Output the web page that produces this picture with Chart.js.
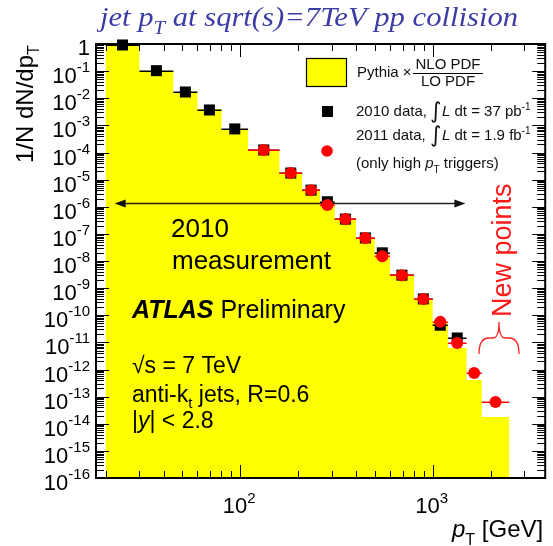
<!DOCTYPE html>
<html>
<head>
<meta charset="utf-8">
<script src="https://cdn.jsdelivr.net/npm/chart.js@4.4.1/dist/chart.umd.min.js"></script>
<style>
  html, body { margin: 0; padding: 0; background: #fff; }
  canvas { display: block; }
</style>
</head>
<body>
<canvas id="c" width="553" height="546"></canvas>
<script>
// pT bin edges [GeV]
const binEdges = [20, 30, 45, 60, 80, 110, 160, 210, 260, 310, 400, 500, 600, 800, 1000, 1200, 1500, 1800, 2500];
// Pythia x NLO PDF / LO PDF, one value per bin
const pythiaNLO = [0.84, 0.104, 0.017, 4.0e-3, 7.4e-4, 1.24e-4, 1.8e-5, 3.9e-6, 1.53e-6, 3.5e-7, 7.1e-8,
                   1.67e-8, 3.0e-9, 4.0e-10, 5.1e-11, 6.2e-12, 4.1e-13, 1.78e-14];
// 2010 data (37 pb^-1), bins 1..16
const data2010 = [0.92, 0.104, 0.017, 3.7e-3, 7.4e-4, 1.24e-4, 1.75e-5, 4.1e-6, 1.53e-6, 3.5e-7, 7.1e-8,
                  2.0e-8, 3.0e-9, 4.0e-10, 4.3e-11, 1.45e-11];
// 2011 data (1.9 fb^-1, high-pT triggers only), bins 6..18
const firstBin2011 = 5;
const data2011 = [1.24e-4, 1.75e-5, 4.1e-6, 1.15e-6, 3.5e-7, 7.1e-8, 1.5e-8, 3.0e-9, 4.0e-10, 5.7e-11,
                  9.5e-12, 7.4e-13, 6.3e-14];

// axis ranges and ticks
const xRange = [17.84, 3843];
const yRange = [1e-16, 1];
const yDecades = [0, -1, -2, -3, -4, -5, -6, -7, -8, -9, -10, -11, -12, -13, -14, -15, -16];
const xMajorExp = [2, 3];
const xMinorTicks = [20, 30, 40, 50, 60, 70, 80, 90, 200, 300, 400, 500, 600, 700, 800, 900, 2000, 3000];

// "2010 measurement" range arrow
const arrowRange = [22.3, 1480];
const arrowLevel = 1.4e-6;

const SANS = '"Liberation Sans", Arial, sans-serif';
const SERIF = '"Liberation Serif", "Times New Roman", serif';

const histPoints = binEdges.slice(0, -1).map((e, i) => ({ x: e, y: pythiaNLO[i] }));
histPoints.push({ x: binEdges[binEdges.length - 1], y: pythiaNLO[pythiaNLO.length - 1] });

const binCenter = i => Math.sqrt(binEdges[i] * binEdges[i + 1]);
const pts2010 = data2010.map((v, i) => ({ x: binCenter(i), y: v, bin: i }));
const pts2011 = data2011.map((v, i) => ({ x: binCenter(i + firstBin2011), y: v, bin: i + firstBin2011 }));

// draw a run of text pieces: [text, font, dy]
function rich(ctx, x, y, segs) {
  let cx = x;
  for (const s of segs) {
    ctx.font = s[1];
    ctx.fillText(s[0], cx, y + (s[2] || 0));
    cx += ctx.measureText(s[0]).width;
  }
  return cx;
}
function richWidth(ctx, segs) {
  let w = 0;
  for (const s of segs) { ctx.font = s[1]; w += ctx.measureText(s[0]).width; }
  return w;
}

// horizontal bin-width bars behind the markers
const binBars = {
  id: 'binBars',
  beforeDatasetDraw(chart, args) {
    const ds = chart.data.datasets[args.index];
    if (!ds.barColor) return;
    const { ctx, scales: { x, y } } = chart;
    ctx.save();
    ctx.strokeStyle = ds.barColor;
    ctx.lineWidth = 1.5;
    for (const p of ds.data) {
      const py = Math.round(y.getPixelForValue(p.y)) + 0.25;
      ctx.beginPath();
      ctx.moveTo(x.getPixelForValue(binEdges[p.bin]), py);
      ctx.lineTo(x.getPixelForValue(binEdges[p.bin + 1]), py);
      ctx.stroke();
    }
    ctx.restore();
  }
};

// ROOT-style frame, ticks on all sides, labels, in-plot annotations
const frameAxes = {
  id: 'frameAxes',
  afterDatasetDraw(chart, args) {
    if (args.index !== 0) return;
    const { ctx, chartArea: a, scales: { x, y } } = chart;
    ctx.save();
    ctx.strokeStyle = '#000';
    ctx.lineWidth = 1;
    ctx.beginPath();
    // y ticks
    for (const d of yDecades) {
      for (let m = 1; m <= 9; m++) {
        const v = m * Math.pow(10, d);
        if (v > yRange[1] * 1.0001 || v < yRange[0] * 0.9999) continue;
        const py = Math.round(y.getPixelForValue(v)) + 0.5;
        const len = m === 1 ? 13 : 8;
        ctx.moveTo(a.left, py); ctx.lineTo(a.left + len, py);
        ctx.moveTo(a.right, py); ctx.lineTo(a.right - len, py);
      }
    }
    // x ticks
    const xt = xMinorTicks.map(v => [v, 7]).concat(xMajorExp.map(e => [Math.pow(10, e), 13]));
    for (const [v, len] of xt) {
      const px = Math.round(x.getPixelForValue(v)) + 0.5;
      ctx.moveTo(px, a.bottom); ctx.lineTo(px, a.bottom - len);
      ctx.moveTo(px, a.top); ctx.lineTo(px, a.top + len);
    }
    ctx.stroke();
    ctx.lineWidth = 2;
    ctx.strokeRect(a.left, a.top, a.right - a.left, a.bottom - a.top);

    // tick labels
    ctx.fillStyle = '#000';
    ctx.textBaseline = 'alphabetic';
    const base = '22px ' + SANS, sup = '15px ' + SANS;
    for (const d of yDecades) {
      const py = y.getPixelForValue(Math.pow(10, d));
      if (d === 0) {
        ctx.font = base; ctx.textAlign = 'right';
        ctx.fillText('1', 90, py + 11);
        ctx.textAlign = 'left';
        continue;
      }
      ctx.textAlign = 'left';
      const segs = [['10', base, 12], [String(d), sup, 1]];
      const w = richWidth(ctx, segs);
      rich(ctx, 90 - w, py, segs);
    }
    for (const e of xMajorExp) {
      const px = x.getPixelForValue(Math.pow(10, e));
      const segs = [['10', base, 0], [String(e), sup, -10]];
      const w = richWidth(ctx, segs);
      rich(ctx, px - w / 2 - 1, 513, segs);
    }

    // axis titles
    rich(ctx, 452, 537, [['p', 'italic 24px ' + SANS], ['T', '16px ' + SANS, 8], [' [GeV]', '24px ' + SANS, 0]]);
    ctx.save();
    ctx.translate(33, 163);
    ctx.rotate(-Math.PI / 2);
    rich(ctx, 0, 0, [['1/N dN/dp', '24px ' + SANS], ['T', '16px ' + SANS, 6]]);
    ctx.restore();

    // range arrow
    const ax0 = x.getPixelForValue(arrowRange[0]);
    const ax1 = x.getPixelForValue(arrowRange[1]);
    const ay = Math.round(y.getPixelForValue(arrowLevel)) + 0.5;
    ctx.strokeStyle = '#222';
    ctx.fillStyle = '#111';
    ctx.lineWidth = 1.3;
    ctx.beginPath();
    ctx.moveTo(ax0 + 8, ay); ctx.lineTo(ax1 - 8, ay);
    ctx.stroke();
    ctx.beginPath();
    ctx.moveTo(ax0, ay); ctx.lineTo(ax0 + 11, ay - 4); ctx.lineTo(ax0 + 11, ay + 4); ctx.closePath();
    ctx.moveTo(ax1, ay); ctx.lineTo(ax1 - 11, ay - 4); ctx.lineTo(ax1 - 11, ay + 4); ctx.closePath();
    ctx.fill();

    // in-plot text
    ctx.fillStyle = '#000';
    ctx.textAlign = 'left';
    ctx.font = '26px ' + SANS;
    ctx.fillText('2010', 171, 237);
    ctx.fillText('measurement', 172, 269);
    rich(ctx, 132, 318, [['ATLAS', 'italic bold 25px ' + SANS], [' Preliminary', '25px ' + SANS]]);
    ctx.font = '23px ' + SANS;
    ctx.fillText('\u221As = 7 TeV', 132, 373);
    rich(ctx, 132, 402, [['anti-k', '23px ' + SANS], ['t', '15px ' + SANS, 6], [' jets, R=0.6', '23px ' + SANS]]);
    rich(ctx, 132, 428, [['|', '23px ' + SANS], ['y', 'italic 23px ' + SANS], ['| < 2.8', '23px ' + SANS]]);

    // new high-pT points marker
    ctx.fillStyle = '#ff1a1a';
    ctx.save();
    ctx.translate(511, 317);
    ctx.rotate(-Math.PI / 2);
    ctx.font = '27px ' + SANS;
    ctx.fillText('New points', 0, 0);
    ctx.restore();
    ctx.strokeStyle = '#ff2020';
    ctx.lineWidth = 1.3;
    ctx.beginPath();
    ctx.moveTo(479, 354);
    ctx.quadraticCurveTo(479, 338, 489, 338);
    ctx.lineTo(493, 338);
    ctx.quadraticCurveTo(499, 338, 499, 322);
    ctx.quadraticCurveTo(499, 338, 505, 338);
    ctx.lineTo(509, 338);
    ctx.quadraticCurveTo(519, 338, 519, 354);
    ctx.stroke();
    ctx.restore();
  },
  afterDraw(chart) {
    const { ctx } = chart;
    ctx.save();
    // title, stretched to span x = 100..518
    ctx.fillStyle = '#3c3ca6';
    ctx.textAlign = 'left';
    ctx.textBaseline = 'alphabetic';
    const titleSegs = [['jet p', 'italic 28px ' + SERIF], ['T', 'italic 19px ' + SERIF, 8],
                       [' at sqrt(s)=7TeV pp collision', 'italic 28px ' + SERIF]];
    const tw = richWidth(ctx, titleSegs);
    ctx.save();
    ctx.translate(100, 26);
    ctx.scale(418 / tw, 1);
    rich(ctx, 0, 0, titleSegs);
    ctx.restore();

    // legend
    ctx.fillStyle = '#ffff00';
    ctx.fillRect(306, 58, 41, 29);
    ctx.strokeStyle = '#000';
    ctx.lineWidth = 1.2;
    ctx.strokeRect(306.5, 58.5, 40, 28);
    ctx.fillStyle = '#111';
    const f = '15px ' + SANS;
    ctx.font = f;
    ctx.fillText('Pythia \u00D7', 357, 77);
    ctx.textAlign = 'center';
    ctx.fillText('NLO PDF', 448, 69);
    ctx.fillText('LO PDF', 448, 86);
    ctx.textAlign = 'left';
    ctx.lineWidth = 1;
    ctx.beginPath(); ctx.moveTo(413, 73.5); ctx.lineTo(483, 73.5); ctx.stroke();

    ctx.fillStyle = '#000';
    ctx.fillRect(322, 106, 11, 11);
    ctx.fillStyle = '#ff0000';
    ctx.beginPath(); ctx.arc(327, 151, 5.8, 0, Math.PI * 2); ctx.fill();

    ctx.fillStyle = '#111';
    const integ = '22px "DejaVu Sans", sans-serif';
    rich(ctx, 356, 116, [['2010 data, ', f]]);
    rich(ctx, 430, 118, [['\u222B', integ]]);
    rich(ctx, 442, 116, [['L', 'italic ' + f], [' dt = 37 pb', f], ['-1', '10px ' + SANS, -6]]);
    rich(ctx, 356, 140, [['2011 data, ', f]]);
    rich(ctx, 430, 142, [['\u222B', integ]]);
    rich(ctx, 442, 140, [['L', 'italic ' + f], [' dt = 1.9 fb', f], ['-1', '10px ' + SANS, -6]]);
    rich(ctx, 356, 168, [['(only high ', f], ['p', 'italic ' + f], ['T', '10px ' + SANS, 5], [' triggers)', f]]);
    ctx.restore();
  }
};

new Chart(document.getElementById('c'), {
  type: 'scatter',
  data: {
    datasets: [
      {
        type: 'line',
        label: 'Pythia x NLO PDF / LO PDF',
        data: histPoints,
        showLine: true,
        stepped: 'before',
        fill: 'start',
        backgroundColor: '#ffff00',
        borderWidth: 0,
        borderColor: 'rgba(0,0,0,0)',
        pointRadius: 0,
        order: 3
      },
      {
        label: '2010 data',
        data: pts2010,
        pointStyle: 'rect',
        pointRadius: 7.8,
        backgroundColor: '#000',
        borderWidth: 0,
        barColor: '#000',
        clip: false,
        order: 2
      },
      {
        label: '2011 data',
        data: pts2011,
        pointStyle: 'circle',
        pointRadius: 6,
        backgroundColor: '#ff0000',
        borderWidth: 0,
        barColor: '#ff0000',
        clip: false,
        order: 1
      }
    ]
  },
  options: {
    responsive: false,
    animation: false,
    devicePixelRatio: 1,
    events: [],
    layout: { padding: { left: 96, top: 44, right: 2, bottom: 68 } },
    scales: {
      x: { type: 'logarithmic', min: xRange[0], max: xRange[1], display: false },
      y: { type: 'logarithmic', min: yRange[0], max: yRange[1], display: false }
    },
    plugins: { legend: { display: false }, tooltip: { enabled: false } }
  },
  plugins: [binBars, frameAxes]
});
</script>
</body>
</html>
